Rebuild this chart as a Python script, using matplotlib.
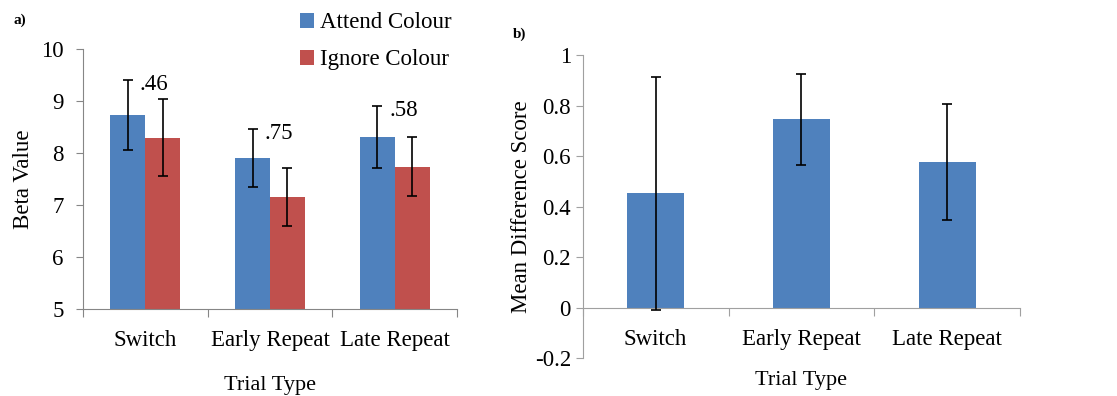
import numpy as np
import matplotlib.pyplot as plt

plt.rcParams['font.family'] = ['Liberation Serif', 'DejaVu Serif']

# data
trial_types = ["Switch", "Early Repeat", "Late Repeat"]
attend_mean = [8.73, 7.90, 8.31]
attend_err = [0.67, 0.56, 0.60]
ignore_mean = [8.29, 7.15, 7.74]
ignore_err = [0.74, 0.56, 0.56]
diff_labels = [".46", ".75", ".58"]
diff_mean = [0.453, 0.745, 0.578]
diff_err = [0.46, 0.18, 0.23]

blue = "#4f81bd"
red = "#c0504d"
spine_col = "#868686"
spine_col_b = "#a0a0a0"
fs = 16.5

fig = plt.figure(figsize=(11.17, 3.96), dpi=100)
ax1 = fig.add_axes([0.0743, 0.2197, 0.3349, 0.6566])
ax2 = fig.add_axes([0.5217, 0.0952, 0.3915, 0.7658])

x = np.arange(len(trial_types))
w = 0.28
ebar = dict(fmt="none", ecolor="black", elinewidth=1.2, capsize=3.5, capthick=1.2, zorder=3)

# ---- panel a ----
ax1.bar(x - w / 2, attend_mean, w, color=blue, label="Attend Colour", zorder=2)
ax1.bar(x + w / 2, ignore_mean, w, color=red, label="Ignore Colour", zorder=2)
ax1.errorbar(x - w / 2, attend_mean, yerr=attend_err, **ebar)
ax1.errorbar(x + w / 2, ignore_mean, yerr=ignore_err, **ebar)
for i, lab in enumerate(diff_labels):
    top = attend_mean[i] + attend_err[i]
    ax1.text(x[i] + 0.07, top - 0.09, lab, fontsize=fs, ha="center", va="center")

ax1.set_xlim(-0.5, 2.5)
ax1.set_ylim(5, 10)
ax1.set_yticks([5, 6, 7, 8, 9, 10])
ax1.set_xticks([-0.5, 0.5, 1.5, 2.5])
ax1.set_xticklabels([])
ax1.set_xticks(x, minor=True)
ax1.set_xticklabels(trial_types, minor=True, fontsize=fs)
ax1.tick_params(axis="x", which="minor", length=0, pad=15)
ax1.tick_params(axis="x", which="major", length=6, color=spine_col, direction="out")
ax1.tick_params(axis="y", length=5, color=spine_col, labelsize=fs, direction="out", pad=9)
ax1.set_ylabel("Beta Value", fontsize=fs, va="center")
ax1.yaxis.set_label_coords(-0.158, 0.5)
ax1.set_xlabel("Trial Type", fontsize=16, va="center")
ax1.xaxis.set_label_coords(0.5, -0.295)
for s in ["top", "right"]:
    ax1.spines[s].set_visible(False)
for s in ["left", "bottom"]:
    ax1.spines[s].set_color(spine_col)
ax1.legend(loc="upper left", bbox_to_anchor=(289 / 1117, 1 - 1 / 396),
           bbox_transform=fig.transFigure, borderpad=0, frameon=False, fontsize=fs,
           handlelength=0.6, handleheight=0.6, handletextpad=0.25, labelspacing=0.7)
fig.text(0.012, 0.94, "a)", fontsize=11, fontweight="bold")

# ---- panel b ----
wb = 0.39
ax2.bar(x, diff_mean, wb, color=blue, zorder=2)
ax2.errorbar(x, diff_mean, yerr=diff_err, **ebar)
ax2.set_xlim(-0.5, 2.5)
ax2.set_ylim(-0.2, 1.0)
ax2.set_yticks([-0.2, 0, 0.2, 0.4, 0.6, 0.8, 1])
ax2.set_yticklabels(["-0.2", "0", "0.2", "0.4", "0.6", "0.8", "1"])
ax2.spines["bottom"].set_position(("data", 0))
ax2.set_xticks([-0.5, 0.5, 1.5, 2.5])
ax2.set_xticklabels([])
ax2.set_xticks(x, minor=True)
ax2.set_xticklabels(trial_types, minor=True, fontsize=fs)
ax2.tick_params(axis="x", which="minor", length=0, pad=15)
ax2.tick_params(axis="x", which="major", length=6, color=spine_col_b, direction="out")
ax2.tick_params(axis="y", length=5, color=spine_col_b, labelsize=fs, direction="out")
ax2.set_ylabel("Mean Difference Score", fontsize=fs, va="center")
ax2.yaxis.set_label_coords(-0.141, 0.5)
ax2.set_xlabel("Trial Type", fontsize=16, va="center")
ax2.xaxis.set_label_coords(0.5, -0.072)
for s in ["top", "right"]:
    ax2.spines[s].set_visible(False)
for s in ["left", "bottom"]:
    ax2.spines[s].set_color(spine_col_b)
fig.text(0.459, 0.905, "b)", fontsize=11, fontweight="bold")

fig.savefig("out.png", dpi=100)
